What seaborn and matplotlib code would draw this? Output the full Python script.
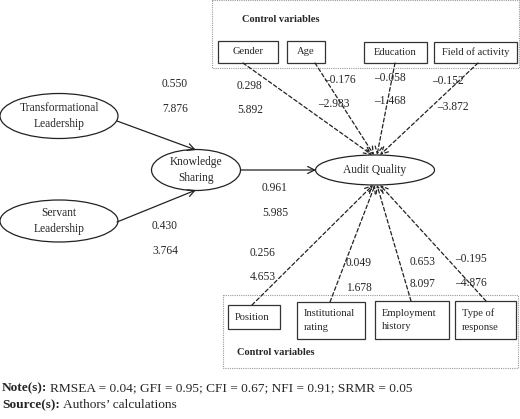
import numpy as np
import pandas as pd
import seaborn as sns
import matplotlib.pyplot as plt
from matplotlib.patches import Ellipse, Rectangle, FancyArrowPatch

sns.set_theme(style="white")
plt.rcParams['font.family'] = ['Liberation Serif', 'DejaVu Serif']

# latent constructs
latentes = ["Transformational\nLeadership", "Servant\nLeadership", "Knowledge\nSharing", "Audit Quality"]
# structural paths (coef, t)
coef_tl_ks = [0.550, 7.876]
coef_sl_ks = [0.430, 3.764]
coef_ks_aq = [0.961, 5.985]
# control variables, top
ctrl_arriba = ["Gender", "Age", "Education", "Field of activity"]
coef_arriba = ["0.298", "\u20130.176", "\u20130.058", "\u20130.152"]
t_arriba = ["5.892", "\u20132.983", "\u20131.468", "\u20133.872"]
# control variables, bottom
ctrl_abajo = ["Position", "Institutional\nrating", "Employment\nhistory", "Type of\nresponse"]
coef_abajo = ["0.256", "0.049", "0.653", "\u20130.195"]
t_abajo = ["4.653", "1.678", "8.097", "\u20134.876"]

nota = "RMSEA = 0.04; GFI = 0.95; CFI = 0.67; NFI = 0.91; SRMR = 0.05"
fuente = "Authors\u2019 calculations"

fig = plt.figure(figsize=(5.2, 4.19), dpi=100)
ax = fig.add_axes([0, 0, 1, 1])
ax.set_xlim(0, 520)
ax.set_ylim(419, 0)
ax.axis("off")

fs = 8.3      # numeros
fs_caja = 7.6 # cajas
fs_elip = 8.3 # elipses

# dotted group boxes
for (x0, y0, x1, y1) in [(212, 0.5, 519, 68), (223, 295, 518, 368)]:
    ax.add_patch(Rectangle((x0, y0), x1 - x0, y1 - y0, fill=False, ec="#9a9a9a", lw=0.8, ls=(0, (1, 1))))
ax.text(242, 19, "Control variables", fontsize=7.5, fontweight="bold", va="center")
ax.text(237, 352, "Control variables", fontsize=7.5, fontweight="bold", va="center")

# ellipses
elipses = {latentes[0]: (59, 116, 118, 45), latentes[1]: (59, 221, 118, 42),
           latentes[2]: (196, 170, 89, 41), latentes[3]: (375, 170, 119, 30)}
for nombre, (cx, cy, w, h) in elipses.items():
    ax.add_patch(Ellipse((cx, cy), w, h, fill=False, ec="#222222", lw=0.9))
    ax.text(cx, cy, nombre, fontsize=fs_elip, ha="center", va="center", linespacing=1.5)

def flecha(p0, p1, ls="-"):
    a = FancyArrowPatch(p0, p1, arrowstyle="->,head_length=5,head_width=2.5",
                        color="#222222", lw=0.9, ls=ls, shrinkA=0, shrinkB=0)
    ax.add_patch(a)

flecha((117, 121), (196, 150))
flecha((117, 222), (196, 190))
flecha((241, 170), (316, 170))

# top control boxes
cajas_arriba = [(218, 41, 278, 63), (287, 41, 325, 63), (364, 42, 427, 63), (434, 42, 517, 63)]
origen_arriba = [(243, 63), (315, 63), (395, 63), (478, 63)]
destino_arriba = [(372, 155), (374, 155), (377, 155), (380, 155)]
for nombre, (x0, y0, x1, y1), o, d in zip(ctrl_arriba, cajas_arriba, origen_arriba, destino_arriba):
    ax.add_patch(Rectangle((x0, y0), x1 - x0, y1 - y0, fill=False, ec="#333333", lw=0.9))
    ax.text((x0 + x1) / 2, (y0 + y1) / 2, nombre, fontsize=fs_caja, ha="center", va="center")
    flecha(o, d, ls=(0, (3, 2)))

pos_arriba = [(237, 86, 237, 110), (324, 80, 318, 104), (374, 78, 374, 101), (432, 81, 437, 107)]
for c, t, (xc, yc, xt, yt) in zip(coef_arriba, t_arriba, pos_arriba):
    ax.text(xc, yc, c, fontsize=fs, va="center")
    ax.text(xt, yt, t, fontsize=fs, va="center")

# bottom control boxes
cajas_abajo = [(228, 305, 280, 329), (297, 302, 365, 339), (375, 301, 449, 339), (455, 301, 516, 339)]
origen_abajo = [(252, 305), (330, 302), (411, 301), (486, 301)]
destino_abajo = [(373, 185), (375, 185), (377, 185), (380, 185)]
for nombre, (x0, y0, x1, y1), o, d in zip(ctrl_abajo, cajas_abajo, origen_abajo, destino_abajo):
    ax.add_patch(Rectangle((x0, y0), x1 - x0, y1 - y0, fill=False, ec="#333333", lw=0.9))
    ax.text(x0 + 7, (y0 + y1) / 2, nombre, fontsize=fs_caja, ha="left", va="center", linespacing=1.7)
    flecha(o, d, ls=(0, (3, 2)))

pos_abajo = [(250, 253, 277), (346, 263, 288), (410, 262, 284), (455, 259, 283)]
for c, t, (x, yc, yt) in zip(coef_abajo, t_abajo, pos_abajo):
    ax.text(x, yc, c, fontsize=fs, va="center")
    ax.text(x, yt, t, fontsize=fs, va="center")

# structural path labels
for vals, (x, y1, y2) in [(coef_tl_ks, (162, 84, 109)), (coef_sl_ks, (152, 226, 251)),
                          (coef_ks_aq, (262, 188, 213))]:
    ax.text(x, y1, f"{vals[0]:.3f}", fontsize=fs, va="center")
    ax.text(x, y2, f"{vals[1]:.3f}", fontsize=fs, va="center")

# notes
fig.canvas.draw()
r = fig.canvas.get_renderer()
for etiqueta, texto, y in [("Note(s):", nota, 388), ("Source(s):", fuente, 405)]:
    tb = ax.text(2, y, etiqueta, fontsize=9.6, fontweight="bold", va="center")
    bb = tb.get_window_extent(renderer=r)
    ax.text(2 + bb.width + 3, y, texto, fontsize=9.6, va="center")

fig.savefig("out.png", dpi=100)
